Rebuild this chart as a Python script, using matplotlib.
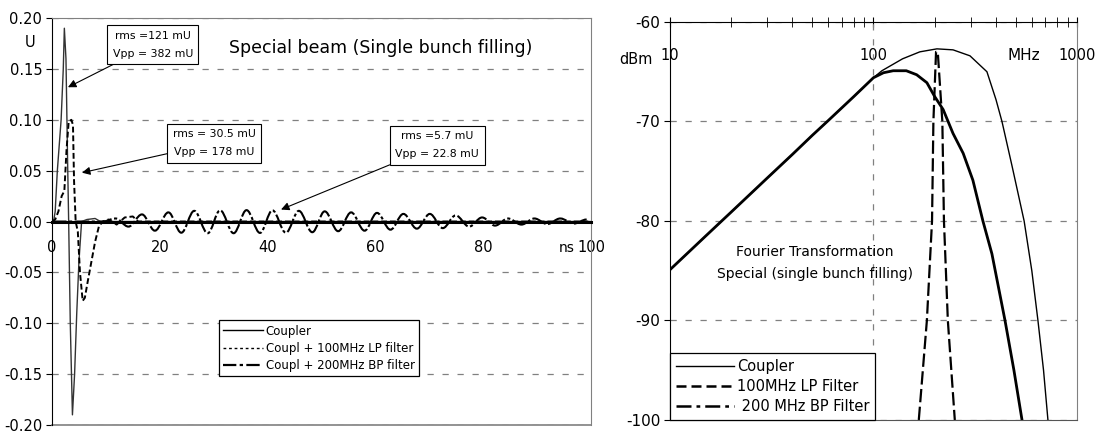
import matplotlib
matplotlib.use("Agg")
import matplotlib.pyplot as plt
import matplotlib.ticker as mticker
from matplotlib.path import Path
from matplotlib.patches import PathPatch
from matplotlib.lines import Line2D

plt.rcParams['font.family'] = ['DejaVu Sans']
plt.rcParams['axes.unicode_minus'] = False

# ---------------- Zeitbereich (links) ----------------
t_coupler = [0, 0.3, 0.6, 1.0, 1.7, 2.1, 2.3, 2.6, 2.9, 3.1, 3.4, 3.8, 4.2, 4.6, 5.0, 5.5, 6.5, 8.0, 9.0, 10, 100]
v_coupler = [0, 0, 0.01, 0.05, 0.10, 0.15, 0.19, 0.16, 0.06, 0.0, -0.10, -0.19, -0.15, -0.09, -0.04, 0.0,
             0.002, 0.003, 0.0, 0.0, 0.0]

t_lp = [0, 0.6, 1.2, 1.8, 2.3, 2.7, 3.1, 3.6, 3.9, 4.1, 4.4, 4.8, 5.2, 5.7, 6.1, 6.6, 7.3, 8.0, 8.7, 9.4,
        10.5, 12.0, 13.5, 15.0, 16.0, 100]
v_lp = [0, 0.002, 0.01, 0.025, 0.03, 0.07, 0.098, 0.10, 0.095, 0.04, 0.0, -0.01, -0.05, -0.078, -0.075,
        -0.06, -0.04, -0.02, -0.005, 0.0, 0.002, -0.003, 0.004, 0.005, 0.0, 0.0]

t_bp = [9.4, 11.8, 14.2, 16.7, 19.1, 21.6, 24.0, 26.4, 28.9, 31.2, 33.7, 36.1, 38.6, 40.9, 43.4, 45.8,
        48.3, 50.6, 53.1, 55.5, 58.0, 60.3, 62.8, 65.2, 67.7, 70.1, 72.5, 74.9, 77.4, 79.8, 82.2, 84.6,
        87.1, 89.5, 91.9, 94.3, 96.8, 99.2]
v_bp = [0.0, 0.003, -0.005, 0.007, -0.009, 0.009, -0.011, 0.0105, -0.0115, 0.011, -0.0115, 0.0112,
        -0.0112, 0.011, -0.011, 0.0105, -0.0105, 0.010, -0.0095, 0.009, -0.009, 0.0085, -0.008, 0.0075,
        -0.007, 0.0075, -0.0065, 0.006, -0.005, 0.004, -0.004, 0.003, -0.003, 0.003, -0.0025, 0.003,
        -0.002, 0.002]

# ---------------- Spektrum (rechts) ----------------
f_coupler = [10, 15, 20, 30, 40, 50, 60, 80, 100, 110, 139, 169, 205, 246, 298, 361, 400, 428, 480, 550,
             600, 643, 685, 720]
db_coupler = [-84.9, -81.5, -79.1, -75.7, -73.3, -71.4, -69.9, -67.5, -65.6, -64.9, -63.7, -63.0, -62.7,
              -62.8, -63.4, -65.0, -67.8, -70.0, -74.5, -80.0, -85.0, -90.0, -95.0, -100.0]
f_lp = [10, 15, 20, 30, 40, 50, 60, 80, 100, 112, 125, 145, 163, 183, 200, 220, 246, 276, 308, 345, 382,
        443, 490, 537]
db_lp = [-84.9, -81.5, -79.1, -75.7, -73.3, -71.4, -69.9, -67.5, -65.6, -65.1, -64.9, -64.9, -65.3, -66.1,
         -67.5, -68.8, -71.2, -73.2, -75.9, -80.0, -83.3, -90.0, -95.0, -100.0]
f_bp = [167, 183, 194, 197, 203, 207, 218, 222, 232, 251]
db_bp = [-100, -90, -80, -70, -63, -63, -70, -80, -90, -100]

grid_ls = (0, (5, 7))

fig = plt.figure(figsize=(11.03, 4.32), dpi=100)

# ---- linkes Diagramm
ax1 = fig.add_axes([0.0471, 0.0162, 0.4887, 0.942])
ax1.set_xlim(0, 100)
ax1.set_ylim(-0.2, 0.2)
ax1.grid(axis='y', linestyle=grid_ls, color='gray', lw=0.9)
ax1.set_axisbelow(True)

ax1.plot(t_coupler, v_coupler, color='#333333', lw=1.0, label='Coupler')
ax1.plot(t_lp, v_lp, color='black', lw=1.4, linestyle=(0, (3, 1.5)), label='Coupl + 100MHz LP filter')

# Ausschwingen als glatte Kurve durch die Extremwerte (Bezier)
k = 0.36
verts = [(0, 0), (t_bp[0], v_bp[0])]
codes = [Path.MOVETO, Path.LINETO]
for i in range(1, len(t_bp)):
    h = t_bp[i] - t_bp[i - 1]
    verts += [(t_bp[i - 1] + k * h, v_bp[i - 1]), (t_bp[i] - k * h, v_bp[i]), (t_bp[i], v_bp[i])]
    codes += [Path.CURVE4, Path.CURVE4, Path.CURVE4]
ax1.add_patch(PathPatch(Path(verts, codes), fill=False, edgecolor='black', lw=1.5,
                        linestyle=(0, (7, 1.2, 1.5, 1.2))))

for side in ['top', 'right']:
    ax1.spines[side].set_color('gray')
ax1.spines['bottom'].set_position(('data', 0))
ax1.spines['bottom'].set_linewidth(2.2)
ax1.axhline(-0.2, color='gray', lw=1.2, clip_on=False)

yt1 = [0.20, 0.15, 0.10, 0.05, 0.00, -0.05, -0.10, -0.15, -0.20]
ax1.set_yticks(yt1)
ax1.yaxis.set_major_formatter(mticker.FormatStrFormatter('%.2f'))
ax1.tick_params(axis='y', direction='out', length=4, labelsize=10.5, pad=3)
xt1 = [0, 20, 40, 60, 80, 100]
ax1.set_xticks(xt1)
ax1.set_xticklabels([str(x) for x in xt1])
ax1.tick_params(axis='x', length=0, labelsize=10.5, pad=13)
ax1.text(95.4, -0.026, 'ns', ha='center', va='center', fontsize=10)
ax1.text(-4.1, 0.176, 'U', ha='center', va='center', fontsize=10.5, clip_on=False)
ax1.text(61, 0.171, 'Special beam (Single bunch filling)', ha='center', va='center', fontsize=12.5)

box = dict(boxstyle='square,pad=0.5', fc='white', ec='black', lw=0.8)
arrow = dict(arrowstyle='-|>', color='black', lw=0.8, mutation_scale=12, shrinkA=0, shrinkB=0)
ax1.annotate('rms =121 mU\nVpp = 382 mU', xy=(2.97, 0.132), xytext=(18.7, 0.174), ha='center', va='center',
             fontsize=7.8, linespacing=2.0, bbox=box, arrowprops=arrow)
ax1.annotate('rms = 30.5 mU\nVpp = 178 mU', xy=(5.57, 0.048), xytext=(30.1, 0.077), ha='center', va='center',
             fontsize=7.8, linespacing=2.0, bbox=box, arrowprops=arrow)
ax1.annotate('rms =5.7 mU\nVpp = 22.8 mU', xy=(42.5, 0.0118), xytext=(71.5, 0.075), ha='center', va='center',
             fontsize=7.8, linespacing=2.0, bbox=box, arrowprops=arrow)

h1 = [Line2D([], [], color='black', lw=1.0),
      Line2D([], [], color='black', lw=1.0, linestyle=(0, (2, 2))),
      Line2D([], [], color='black', lw=1.6, linestyle=(0, (6, 1.5, 1.5, 1.5)))]
leg1 = ax1.legend(h1, ['Coupler', 'Coupl + 100MHz LP filter', 'Coupl + 200MHz BP filter'],
                  loc='upper left', bbox_to_anchor=(0.31, 0.257), fontsize=8.5, handlelength=3.4,
                  handletextpad=0.2, labelspacing=0.35, borderpad=0.35, borderaxespad=0,
                  fancybox=False, framealpha=1, edgecolor='black')
leg1.get_frame().set_linewidth(0.9)

# ---- rechtes Diagramm
ax2 = fig.add_axes([0.6074, 0.0278, 0.369, 0.9213])
ax2.set_xscale('log')
ax2.set_xlim(10, 1000)
ax2.set_ylim(-100, -60)
ax2.grid(axis='y', linestyle=grid_ls, color='gray', lw=0.9)
ax2.axvline(100, linestyle=grid_ls, color='gray', lw=0.9)
ax2.set_axisbelow(True)

ax2.plot(f_coupler, db_coupler, color='black', lw=1.0)
ax2.plot(f_lp, db_lp, color='black', lw=2.0)
ax2.plot(f_bp, db_bp, color='black', lw=1.6, linestyle=(0, (6, 2)))

ax2.spines['right'].set_color('gray')
ax2.spines['bottom'].set_color('#555555')
ax2.xaxis.tick_top()
ax2.xaxis.set_major_locator(mticker.FixedLocator([10, 100, 1000]))
ax2.xaxis.set_major_formatter(mticker.FixedFormatter(['10', '100', '1000']))
ax2.xaxis.set_minor_locator(mticker.LogLocator(base=10, subs=range(2, 10)))
ax2.xaxis.set_minor_formatter(mticker.NullFormatter())
ax2.tick_params(axis='x', which='both', direction='inout', length=7, labelsize=10.5, pad=-33)
yt2 = [-60, -70, -80, -90, -100]
ax2.set_yticks(yt2)
ax2.set_yticklabels([str(y) for y in yt2])
ax2.tick_params(axis='y', direction='out', length=4, labelsize=11, pad=3)

ax2.text(-0.083, 0.905, 'dBm', transform=ax2.transAxes, ha='center', va='center', fontsize=10.5)
ax2.text(0.87, 0.917, 'MHz', transform=ax2.transAxes, ha='center', va='center', fontsize=11)
ax2.text(51.6, -84.2, 'Fourier Transformation\nSpecial (single bunch filling)', ha='center', va='center',
         fontsize=10, linespacing=1.7)

h2 = [Line2D([], [], color='black', lw=1.0),
      Line2D([], [], color='black', lw=1.8, linestyle=(0, (4, 2))),
      Line2D([], [], color='black', lw=1.8, linestyle=(0, (6, 2, 1.5, 2)))]
leg2 = ax2.legend(h2, ['Coupler', '100MHz LP Filter', ' 200 MHz BP Filter'], loc='lower left',
                  bbox_to_anchor=(0, 0), fontsize=10.5, handlelength=4.0, handletextpad=0.2,
                  labelspacing=0.35, borderpad=0.4, borderaxespad=0, fancybox=False, framealpha=1,
                  edgecolor='black')
leg2.get_frame().set_linewidth(0.9)

plt.savefig("out.png", dpi=100)
